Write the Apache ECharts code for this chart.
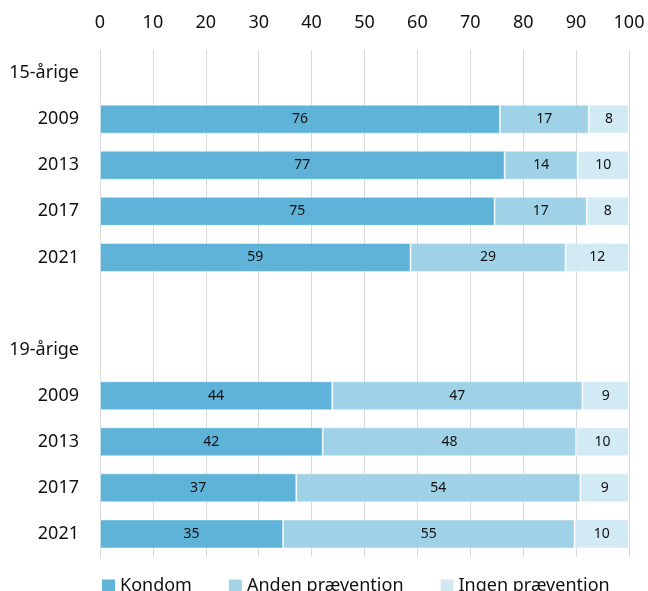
<!DOCTYPE html>
<html>
<head>
<meta charset="utf-8">
<script src="https://cdn.jsdelivr.net/npm/echarts@6/dist/echarts.min.js"></script>
<style>
html,body{margin:0;padding:0;background:#fff;}
#chart{width:648px;height:591px;}
</style>
</head>
<body>
<div id="chart"></div>
<script>
var categories = ['15-årige', '2009', '2013', '2017', '2021', '', '19-årige', '2009', '2013', '2017', '2021'];
var kondom = [null, 75.6, 76.5, 74.6, 58.7, null, null, 43.9, 42.1, 37.1, 34.6];
var anden  = [null, 16.8, 13.8, 17.4, 29.3, null, null, 47.3, 47.9, 53.7, 55.1];
var ingen  = [null, 7.6, 9.7, 8.0, 12.0, null, null, 8.8, 10.0, 9.2, 10.3];
var seriesNames = ['Kondom', 'Anden prævention', 'Ingen prævention'];
var xTicks = { min: 0, max: 100, interval: 10 };

var FONT = 'Noto Sans';
var colors = ['rgba(81,173,213,0.92)', 'rgba(152,206,229,0.92)', 'rgba(205,232,243,0.92)'];
var legendColors = ['#60B4D8', '#A3D4E8', '#D2E9F3'];

function mkSeries(name, data, i) {
  return {
    name: name,
    type: 'bar',
    stack: 'total',
    barWidth: 29,
    data: data,
    itemStyle: { color: colors[i], borderColor: 'rgba(255,255,255,0.45)', borderWidth: 1 },
    label: {
      show: true,
      position: 'inside',
      color: '#111',
      fontFamily: FONT,
      fontSize: 14,
      padding: [3, 0, 0, 0],
      formatter: function (p) { return p.value == null ? '' : Math.round(p.value); }
    },
    emphasis: { disabled: true }
  };
}

var chart = echarts.init(document.getElementById('chart'), null, { renderer: 'canvas' });
chart.setOption({
  animation: false,
  grid: { left: 100, right: 19, top: 50, bottom: 34, containLabel: false },
  legend: {
    left: 102,
    top: 575,
    padding: 0,
    itemWidth: 13,
    itemHeight: 13,
    itemGap: 37,
    icon: 'rect',
    textStyle: { fontFamily: FONT, fontSize: 18, color: '#111', lineHeight: 22 },
    data: seriesNames.map(function (n, i) { return { name: n, itemStyle: { color: legendColors[i], borderWidth: 0 } }; })
  },
  xAxis: {
    type: 'value',
    position: 'top',
    min: xTicks.min,
    max: xTicks.max,
    interval: xTicks.interval,
    axisLine: { show: false },
    axisTick: { show: false },
    axisLabel: { fontFamily: FONT, fontSize: 18, color: '#111', margin: 18 },
    splitLine: { show: true, lineStyle: { color: '#d9d9d9', width: 1 } }
  },
  yAxis: {
    type: 'category',
    inverse: true,
    data: categories,
    axisLine: { show: true, lineStyle: { color: '#d9d9d9' } },
    axisTick: { show: false },
    axisLabel: { fontFamily: FONT, fontSize: 18, color: '#111', margin: 21, padding: [3, 0, 0, 0] }
  },
  series: [
    mkSeries(seriesNames[0], kondom, 0),
    mkSeries(seriesNames[1], anden, 1),
    mkSeries(seriesNames[2], ingen, 2)
  ]
});
</script>
</body>
</html>
